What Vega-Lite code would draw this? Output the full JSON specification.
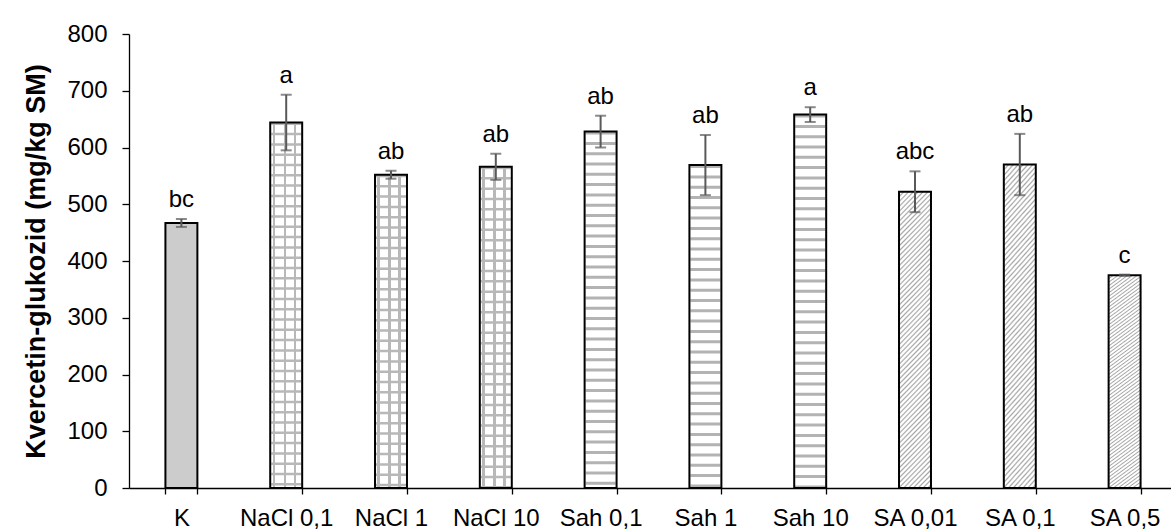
{
  "$schema": "https://vega.github.io/schema/vega-lite/v6.json",
  "width": 1042,
  "height": 454,
  "autosize": "none",
  "padding": {"left": 129, "top": 34, "right": 0, "bottom": 41},
  "background": "white",
  "config": {
    "font": "Liberation Sans",
    "view": {"stroke": null},
    "axis": {"grid": false, "domainColor": "black", "tickColor": "black", "labelColor": "black", "titleColor": "black", "labelFontSize": 24, "labelFont": "Liberation Sans", "domainWidth": 1.3, "tickWidth": 1.3},
    "axisY": {"tickSize": 7, "labelPadding": 15, "titleFontSize": 27, "titleFontWeight": "bold", "titlePadding": 16, "titleFont": "Liberation Sans"}
  },
  "data": {
    "values": [
      {"grp": "K", "type": "K", "value": 467, "lo": 460, "hi": 474, "sig": "bc"},
      {"grp": "NaCl 0,1", "type": "NaCl", "value": 644, "lo": 595, "hi": 693, "sig": "a"},
      {"grp": "NaCl 1", "type": "NaCl", "value": 552, "lo": 545, "hi": 559, "sig": "ab"},
      {"grp": "NaCl 10", "type": "NaCl", "value": 566, "lo": 543, "hi": 589, "sig": "ab"},
      {"grp": "Sah 0,1", "type": "Sah", "value": 628, "lo": 600, "hi": 656, "sig": "ab"},
      {"grp": "Sah 1", "type": "Sah", "value": 569, "lo": 516, "hi": 622, "sig": "ab"},
      {"grp": "Sah 10", "type": "Sah", "value": 658, "lo": 645, "hi": 671, "sig": "a"},
      {"grp": "SA 0,01", "type": "SA", "value": 522, "lo": 486, "hi": 558, "sig": "abc"},
      {"grp": "SA 0,1", "type": "SA", "value": 570, "lo": 516, "hi": 624, "sig": "ab"},
      {"grp": "SA 0,5", "type": "SA", "value": 375, "lo": 374, "hi": 376, "sig": "c"}
    ]
  },
  "encoding": {
    "x": {
      "field": "grp",
      "type": "nominal",
      "sort": null,
      "scale": {"range": [0, 1048], "paddingInner": 0.695, "paddingOuter": 0.3475},
      "axis": {"title": null, "labelAngle": 0, "tickBand": "extent", "tickSize": 6, "labelPadding": 12}
    },
    "y": {
      "field": "value",
      "type": "quantitative",
      "scale": {"domain": [0, 800], "nice": false},
      "title": "Kvercetin-glukozid (mg/kg SM)",
      "axis": {"values": [0, 100, 200, 300, 400, 500, 600, 700, 800]}
    }
  },
  "layer": [
    {
      "transform": [{"filter": "datum.type === 'K'"}],
      "mark": {"type": "bar", "fill": "#cccccc"}
    },
    {
      "transform": [{"filter": "datum.type === 'NaCl'"}],
      "mark": {
        "type": "bar",
        "fill": {
          "gradient": "linear", "x1": 0, "y1": 0, "x2": 1, "y2": 0,
          "stops": [
            {"offset": 0, "color": "#ffffff"},
            {"offset": 0.076, "color": "#ffffff"},
            {"offset": 0.076, "color": "#b8b8b8"},
            {"offset": 0.156, "color": "#b8b8b8"},
            {"offset": 0.156, "color": "#ffffff"},
            {"offset": 0.42, "color": "#ffffff"},
            {"offset": 0.42, "color": "#b8b8b8"},
            {"offset": 0.5, "color": "#b8b8b8"},
            {"offset": 0.5, "color": "#ffffff"},
            {"offset": 0.73, "color": "#ffffff"},
            {"offset": 0.73, "color": "#b8b8b8"},
            {"offset": 0.81, "color": "#b8b8b8"},
            {"offset": 0.81, "color": "#ffffff"},
            {"offset": 1, "color": "#ffffff"}
          ]
        }
      }
    },
    {
      "transform": [{"filter": "datum.type === 'Sah'"}],
      "mark": {"type": "bar", "fill": "#ffffff"}
    },
    {
      "transform": [{"filter": "datum.type === 'SA'"}],
      "mark": {
        "type": "bar",
        "fill": {
          "gradient": "linear", "x1": 0, "y1": 0, "x2": 0.121, "y2": 1.097,
          "stops": [
            {"offset":0,"color":"#a6a6a6"},{"offset":0.005,"color":"#fff"},{"offset":0.01,"color":"#fff"},
            {"offset":0.015,"color":"#a6a6a6"},{"offset":0.02,"color":"#fff"},{"offset":0.025,"color":"#fff"},
            {"offset":0.03,"color":"#a6a6a6"},{"offset":0.035,"color":"#fff"},{"offset":0.04,"color":"#fff"},
            {"offset":0.045,"color":"#a6a6a6"},{"offset":0.05,"color":"#fff"},{"offset":0.055,"color":"#fff"},
            {"offset":0.06,"color":"#a6a6a6"},{"offset":0.065,"color":"#fff"},{"offset":0.07,"color":"#fff"},
            {"offset":0.075,"color":"#a6a6a6"},{"offset":0.08,"color":"#fff"},{"offset":0.085,"color":"#fff"},
            {"offset":0.09,"color":"#a6a6a6"},{"offset":0.095,"color":"#fff"},{"offset":0.1,"color":"#fff"},
            {"offset":0.105,"color":"#a6a6a6"},{"offset":0.11,"color":"#fff"},{"offset":0.115,"color":"#fff"},
            {"offset":0.12,"color":"#a6a6a6"},{"offset":0.125,"color":"#fff"},{"offset":0.13,"color":"#fff"},
            {"offset":0.135,"color":"#a6a6a6"},{"offset":0.14,"color":"#fff"},{"offset":0.145,"color":"#fff"},
            {"offset":0.15,"color":"#a6a6a6"},{"offset":0.155,"color":"#fff"},{"offset":0.16,"color":"#fff"},
            {"offset":0.165,"color":"#a6a6a6"},{"offset":0.17,"color":"#fff"},{"offset":0.175,"color":"#fff"},
            {"offset":0.18,"color":"#a6a6a6"},{"offset":0.185,"color":"#fff"},{"offset":0.19,"color":"#fff"},
            {"offset":0.195,"color":"#a6a6a6"},{"offset":0.2,"color":"#fff"},{"offset":0.205,"color":"#fff"},
            {"offset":0.21,"color":"#a6a6a6"},{"offset":0.215,"color":"#fff"},{"offset":0.22,"color":"#fff"},
            {"offset":0.225,"color":"#a6a6a6"},{"offset":0.23,"color":"#fff"},{"offset":0.235,"color":"#fff"},
            {"offset":0.24,"color":"#a6a6a6"},{"offset":0.245,"color":"#fff"},{"offset":0.25,"color":"#fff"},
            {"offset":0.255,"color":"#a6a6a6"},{"offset":0.26,"color":"#fff"},{"offset":0.265,"color":"#fff"},
            {"offset":0.27,"color":"#a6a6a6"},{"offset":0.275,"color":"#fff"},{"offset":0.28,"color":"#fff"},
            {"offset":0.285,"color":"#a6a6a6"},{"offset":0.29,"color":"#fff"},{"offset":0.295,"color":"#fff"},
            {"offset":0.3,"color":"#a6a6a6"},{"offset":0.305,"color":"#fff"},{"offset":0.31,"color":"#fff"},
            {"offset":0.315,"color":"#a6a6a6"},{"offset":0.32,"color":"#fff"},{"offset":0.325,"color":"#fff"},
            {"offset":0.33,"color":"#a6a6a6"},{"offset":0.335,"color":"#fff"},{"offset":0.34,"color":"#fff"},
            {"offset":0.345,"color":"#a6a6a6"},{"offset":0.35,"color":"#fff"},{"offset":0.355,"color":"#fff"},
            {"offset":0.36,"color":"#a6a6a6"},{"offset":0.365,"color":"#fff"},{"offset":0.37,"color":"#fff"},
            {"offset":0.375,"color":"#a6a6a6"},{"offset":0.38,"color":"#fff"},{"offset":0.385,"color":"#fff"},
            {"offset":0.39,"color":"#a6a6a6"},{"offset":0.395,"color":"#fff"},{"offset":0.4,"color":"#fff"},
            {"offset":0.405,"color":"#a6a6a6"},{"offset":0.41,"color":"#fff"},{"offset":0.415,"color":"#fff"},
            {"offset":0.42,"color":"#a6a6a6"},{"offset":0.425,"color":"#fff"},{"offset":0.43,"color":"#fff"},
            {"offset":0.435,"color":"#a6a6a6"},{"offset":0.44,"color":"#fff"},{"offset":0.445,"color":"#fff"},
            {"offset":0.45,"color":"#a6a6a6"},{"offset":0.455,"color":"#fff"},{"offset":0.46,"color":"#fff"},
            {"offset":0.465,"color":"#a6a6a6"},{"offset":0.47,"color":"#fff"},{"offset":0.475,"color":"#fff"},
            {"offset":0.48,"color":"#a6a6a6"},{"offset":0.485,"color":"#fff"},{"offset":0.49,"color":"#fff"},
            {"offset":0.495,"color":"#a6a6a6"},{"offset":0.5,"color":"#fff"},{"offset":0.505,"color":"#fff"},
            {"offset":0.51,"color":"#a6a6a6"},{"offset":0.515,"color":"#fff"},{"offset":0.52,"color":"#fff"},
            {"offset":0.525,"color":"#a6a6a6"},{"offset":0.53,"color":"#fff"},{"offset":0.535,"color":"#fff"},
            {"offset":0.54,"color":"#a6a6a6"},{"offset":0.545,"color":"#fff"},{"offset":0.55,"color":"#fff"},
            {"offset":0.555,"color":"#a6a6a6"},{"offset":0.56,"color":"#fff"},{"offset":0.565,"color":"#fff"},
            {"offset":0.57,"color":"#a6a6a6"},{"offset":0.575,"color":"#fff"},{"offset":0.58,"color":"#fff"},
            {"offset":0.585,"color":"#a6a6a6"},{"offset":0.59,"color":"#fff"},{"offset":0.595,"color":"#fff"},
            {"offset":0.6,"color":"#a6a6a6"},{"offset":0.605,"color":"#fff"},{"offset":0.61,"color":"#fff"},
            {"offset":0.615,"color":"#a6a6a6"},{"offset":0.62,"color":"#fff"},{"offset":0.625,"color":"#fff"},
            {"offset":0.63,"color":"#a6a6a6"},{"offset":0.635,"color":"#fff"},{"offset":0.64,"color":"#fff"},
            {"offset":0.645,"color":"#a6a6a6"},{"offset":0.65,"color":"#fff"},{"offset":0.655,"color":"#fff"},
            {"offset":0.66,"color":"#a6a6a6"},{"offset":0.665,"color":"#fff"},{"offset":0.67,"color":"#fff"},
            {"offset":0.675,"color":"#a6a6a6"},{"offset":0.68,"color":"#fff"},{"offset":0.685,"color":"#fff"},
            {"offset":0.69,"color":"#a6a6a6"},{"offset":0.695,"color":"#fff"},{"offset":0.7,"color":"#fff"},
            {"offset":0.705,"color":"#a6a6a6"},{"offset":0.71,"color":"#fff"},{"offset":0.715,"color":"#fff"},
            {"offset":0.72,"color":"#a6a6a6"},{"offset":0.725,"color":"#fff"},{"offset":0.73,"color":"#fff"},
            {"offset":0.735,"color":"#a6a6a6"},{"offset":0.74,"color":"#fff"},{"offset":0.745,"color":"#fff"},
            {"offset":0.75,"color":"#a6a6a6"},{"offset":0.755,"color":"#fff"},{"offset":0.76,"color":"#fff"},
            {"offset":0.765,"color":"#a6a6a6"},{"offset":0.77,"color":"#fff"},{"offset":0.775,"color":"#fff"},
            {"offset":0.78,"color":"#a6a6a6"},{"offset":0.785,"color":"#fff"},{"offset":0.79,"color":"#fff"},
            {"offset":0.795,"color":"#a6a6a6"},{"offset":0.8,"color":"#fff"},{"offset":0.805,"color":"#fff"},
            {"offset":0.81,"color":"#a6a6a6"},{"offset":0.815,"color":"#fff"},{"offset":0.82,"color":"#fff"},
            {"offset":0.825,"color":"#a6a6a6"},{"offset":0.83,"color":"#fff"},{"offset":0.835,"color":"#fff"},
            {"offset":0.84,"color":"#a6a6a6"},{"offset":0.845,"color":"#fff"},{"offset":0.85,"color":"#fff"},
            {"offset":0.855,"color":"#a6a6a6"},{"offset":0.86,"color":"#fff"},{"offset":0.865,"color":"#fff"},
            {"offset":0.87,"color":"#a6a6a6"},{"offset":0.875,"color":"#fff"},{"offset":0.88,"color":"#fff"},
            {"offset":0.885,"color":"#a6a6a6"},{"offset":0.89,"color":"#fff"},{"offset":0.895,"color":"#fff"},
            {"offset":0.9,"color":"#a6a6a6"},{"offset":0.905,"color":"#fff"},{"offset":0.91,"color":"#fff"},
            {"offset":0.915,"color":"#a6a6a6"},{"offset":0.92,"color":"#fff"},{"offset":0.925,"color":"#fff"},
            {"offset":0.93,"color":"#a6a6a6"},{"offset":0.935,"color":"#fff"},{"offset":0.94,"color":"#fff"},
            {"offset":0.945,"color":"#a6a6a6"},{"offset":0.95,"color":"#fff"},{"offset":0.955,"color":"#fff"},
            {"offset":0.96,"color":"#a6a6a6"},{"offset":0.965,"color":"#fff"},{"offset":0.97,"color":"#fff"},
            {"offset":0.975,"color":"#a6a6a6"},{"offset":0.98,"color":"#fff"},{"offset":0.985,"color":"#fff"},
            {"offset":0.99,"color":"#a6a6a6"},{"offset":0.995,"color":"#fff"},{"offset":1,"color":"#fff"}
          ]
        }
      }
    },
    {
      "transform": [{"filter": "datum.type === 'NaCl'"}],
      "mark": {"type": "rule", "strokeWidth": 30, "strokeDash": [2.5, 7.8], "strokeCap": "butt", "color": "#b8b8b8"},
      "encoding": {"y2": {"datum": 0}}
    },
    {
      "transform": [{"filter": "datum.type === 'Sah'"}],
      "mark": {"type": "rule", "strokeWidth": 30, "strokeDash": [3, 7.3], "strokeCap": "butt", "color": "#b3b3b3"},
      "encoding": {"y2": {"datum": 0}}
    },
    {
      "mark": {"type": "bar", "fill": null, "fillOpacity": 0, "stroke": "black", "strokeWidth": 2}
    },
    {
      "mark": {
        "type": "errorbar",
        "color": "#595959",
        "ticks": {"size": 11, "thickness": 2, "color": "#595959"},
        "rule": {"strokeWidth": 2, "color": "#595959"}
      },
      "encoding": {
        "y": {"field": "lo", "type": "quantitative", "title": "Kvercetin-glukozid (mg/kg SM)"},
        "y2": {"field": "hi"}
      }
    },
    {
      "mark": {"type": "text", "baseline": "alphabetic", "dy": -12, "fontSize": 24, "color": "black", "font": "Liberation Sans"},
      "encoding": {
        "y": {"field": "hi", "type": "quantitative", "title": "Kvercetin-glukozid (mg/kg SM)"},
        "text": {"field": "sig"}
      }
    }
  ]
}
